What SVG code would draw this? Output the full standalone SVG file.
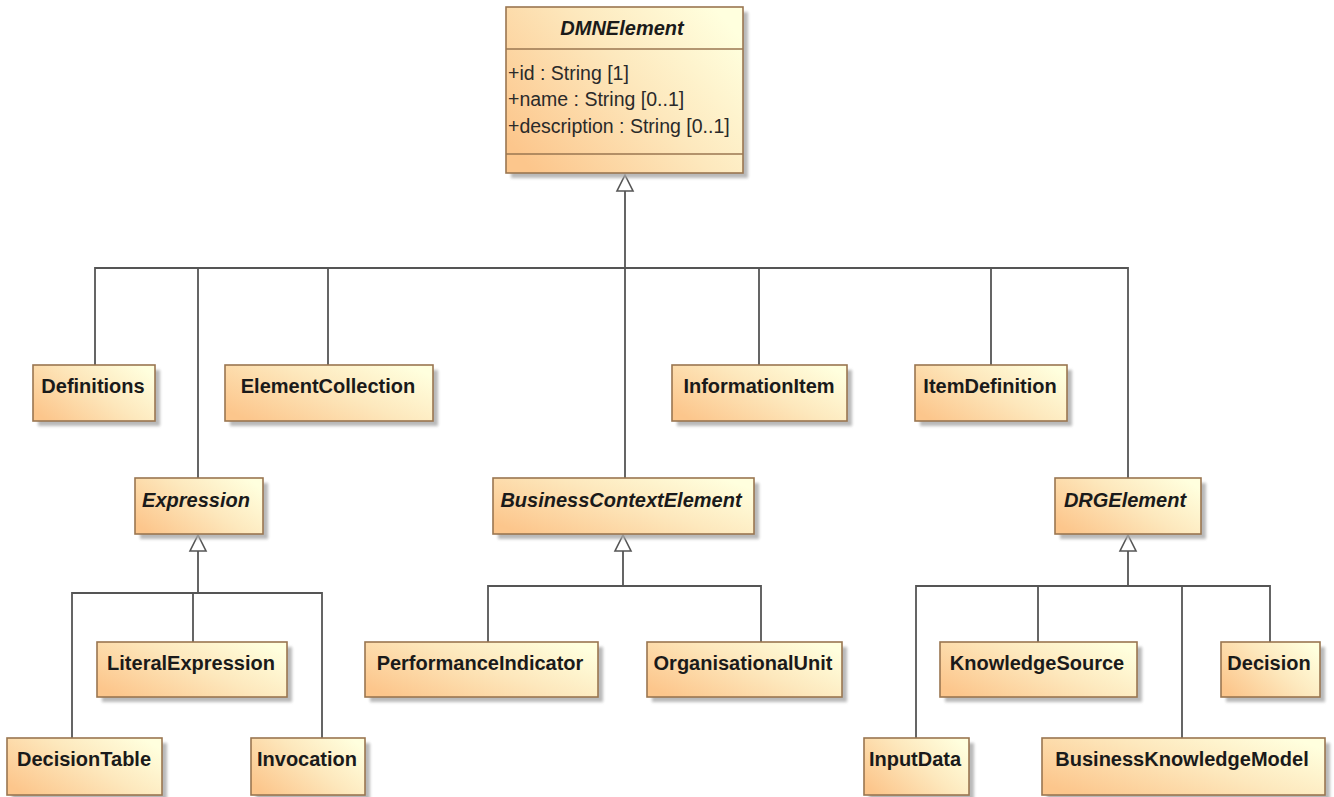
<svg xmlns="http://www.w3.org/2000/svg" width="1334" height="797" viewBox="0 0 1334 797">
<defs>
<linearGradient id="fillg" x1="0" y1="0.8" x2="1" y2="0.2">
<stop offset="0" stop-color="#fcc68c"/>
<stop offset="0.55" stop-color="#fde8bd"/>
<stop offset="1" stop-color="#ffffde"/>
</linearGradient>
<filter id="blur" x="-10%" y="-10%" width="130%" height="140%"><feGaussianBlur stdDeviation="1.5"/></filter>
</defs>
<style>
.shadow{fill:#a8a8a8;filter:url(#blur);opacity:0.8}
.box{fill:url(#fillg);stroke:#9a7650;stroke-width:1.6}
.sep{stroke:#9a7650;stroke-width:1.4}
.lbl{font-family:"Liberation Sans",Arial,sans-serif;font-size:20px;font-weight:bold;fill:#1a1a1a;text-anchor:middle}
.abs{font-style:italic}
.attr{font-family:"Liberation Sans",Arial,sans-serif;font-size:19.5px;fill:#2a2a2a}
.ln{fill:none;stroke:#555;stroke-width:1.8}
.tri{fill:#fff;stroke:#555;stroke-width:1.6}
</style>
<rect width="1334" height="797" fill="#fff"/>

<g id="connectors">
<polyline class="ln" points="625,191 625,268"/>
<polyline class="ln" points="95,365 95,268 1128,268 1128,478"/>
<line class="ln" x1="198" y1="268" x2="198" y2="478"/>
<line class="ln" x1="328" y1="268" x2="328" y2="365"/>
<line class="ln" x1="625" y1="268" x2="625" y2="478"/>
<line class="ln" x1="759" y1="268" x2="759" y2="365"/>
<line class="ln" x1="991" y1="268" x2="991" y2="365"/>
<polygon class="tri" points="625,175 633,191 617,191"/>

<line class="ln" x1="198" y1="551" x2="198" y2="593"/>
<polyline class="ln" points="72,738 72,593 322,593 322,738"/>
<line class="ln" x1="193" y1="593" x2="193" y2="642"/>
<polygon class="tri" points="198,535 206,551 190,551"/>

<line class="ln" x1="623" y1="551" x2="623" y2="586"/>
<polyline class="ln" points="488,642 488,586 761,586 761,642"/>
<polygon class="tri" points="623,535 631,551 615,551"/>

<line class="ln" x1="1128" y1="551" x2="1128" y2="586"/>
<polyline class="ln" points="916,738 916,586 1270,586 1270,642"/>
<line class="ln" x1="1038" y1="586" x2="1038" y2="642"/>
<line class="ln" x1="1182" y1="586" x2="1182" y2="738"/>
<polygon class="tri" points="1128,535 1136,551 1120,551"/>
</g>

<g id="DMNElement">
<rect class="shadow" x="511" y="12" width="237" height="166"/>
<rect class="box" x="506" y="7" width="237" height="166"/>
<line class="sep" x1="506" y1="49" x2="743" y2="49"/>
<line class="sep" x1="506" y1="154" x2="743" y2="154"/>
<text class="lbl abs" x="622" y="35">DMNElement</text>
<text class="attr" x="508" y="80">+id : String [1]</text>
<text class="attr" x="508" y="106">+name : String [0..1]</text>
<text class="attr" x="508" y="133">+description : String [0..1]</text>
</g>

<g id="Definitions">
<rect class="shadow" x="38" y="370" width="122" height="56"/>
<rect class="box" x="33" y="365" width="122" height="56"/>
<text class="lbl" x="93" y="393">Definitions</text>
</g>

<g id="ElementCollection">
<rect class="shadow" x="230" y="370" width="208" height="56"/>
<rect class="box" x="225" y="365" width="208" height="56"/>
<text class="lbl" x="328" y="393">ElementCollection</text>
</g>

<g id="InformationItem">
<rect class="shadow" x="677" y="370" width="175" height="56"/>
<rect class="box" x="672" y="365" width="175" height="56"/>
<text class="lbl" x="759" y="393">InformationItem</text>
</g>

<g id="ItemDefinition">
<rect class="shadow" x="920" y="370" width="152" height="56"/>
<rect class="box" x="915" y="365" width="152" height="56"/>
<text class="lbl" x="990" y="393">ItemDefinition</text>
</g>

<g id="Expression">
<rect class="shadow" x="140" y="483" width="128" height="56"/>
<rect class="box" x="135" y="478" width="128" height="56"/>
<text class="lbl abs" x="196" y="507">Expression</text>
</g>

<g id="BusinessContextElement">
<rect class="shadow" x="498" y="483" width="261" height="56"/>
<rect class="box" x="493" y="478" width="261" height="56"/>
<text class="lbl abs" x="621" y="507">BusinessContextElement</text>
</g>

<g id="DRGElement">
<rect class="shadow" x="1060" y="483" width="146" height="56"/>
<rect class="box" x="1055" y="478" width="146" height="56"/>
<text class="lbl abs" x="1125" y="507">DRGElement</text>
</g>

<g id="LiteralExpression">
<rect class="shadow" x="102" y="647" width="190" height="55"/>
<rect class="box" x="97" y="642" width="190" height="55"/>
<text class="lbl" x="191" y="670">LiteralExpression</text>
</g>

<g id="DecisionTable">
<rect class="shadow" x="12" y="743" width="155" height="57"/>
<rect class="box" x="7" y="738" width="155" height="57"/>
<text class="lbl" x="84" y="766">DecisionTable</text>
</g>

<g id="Invocation">
<rect class="shadow" x="256" y="743" width="114" height="57"/>
<rect class="box" x="251" y="738" width="114" height="57"/>
<text class="lbl" x="307" y="766">Invocation</text>
</g>

<g id="PerformanceIndicator">
<rect class="shadow" x="370" y="647" width="233" height="55"/>
<rect class="box" x="365" y="642" width="233" height="55"/>
<text class="lbl" x="480" y="670">PerformanceIndicator</text>
</g>

<g id="OrganisationalUnit">
<rect class="shadow" x="652" y="647" width="195" height="55"/>
<rect class="box" x="647" y="642" width="195" height="55"/>
<text class="lbl" x="743" y="670">OrganisationalUnit</text>
</g>

<g id="KnowledgeSource">
<rect class="shadow" x="945" y="647" width="197" height="55"/>
<rect class="box" x="940" y="642" width="197" height="55"/>
<text class="lbl" x="1037" y="670">KnowledgeSource</text>
</g>

<g id="Decision">
<rect class="shadow" x="1226" y="647" width="99" height="55"/>
<rect class="box" x="1221" y="642" width="99" height="55"/>
<text class="lbl" x="1269" y="670">Decision</text>
</g>

<g id="InputData">
<rect class="shadow" x="869" y="743" width="105" height="57"/>
<rect class="box" x="864" y="738" width="105" height="57"/>
<text class="lbl" x="915" y="766">InputData</text>
</g>

<g id="BusinessKnowledgeModel">
<rect class="shadow" x="1047" y="743" width="283" height="57"/>
<rect class="box" x="1042" y="738" width="283" height="57"/>
<text class="lbl" x="1182" y="766">BusinessKnowledgeModel</text>
</g>
</svg>
